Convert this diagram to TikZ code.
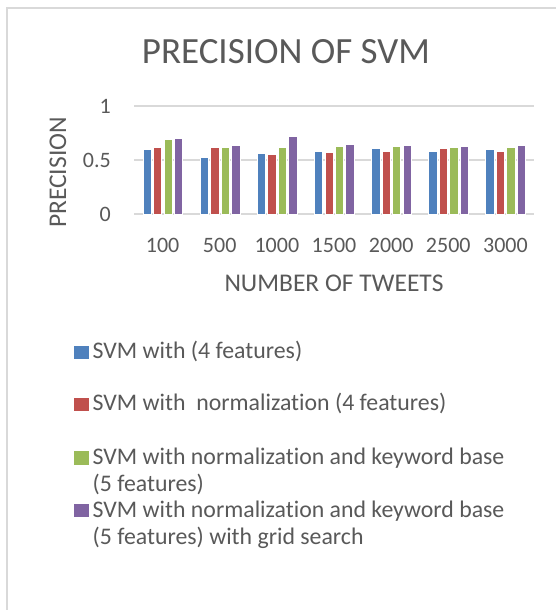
\documentclass[tikz,border=0pt]{standalone}
\usepackage{fontspec}
\setmainfont{Carlito}[Ligatures={NoCommon}]
\definecolor{txtgray}{HTML}{595959}
\definecolor{gridgray}{HTML}{D9D9D9}
\definecolor{serA}{HTML}{4F81BD}
\definecolor{serB}{HTML}{C0504D}
\definecolor{serC}{HTML}{9BBB59}
\definecolor{serD}{HTML}{8064A2}
\tikzset{
  chartframe/.style={draw=gridgray, line width=1.5pt},
  gridrule/.style={draw=gridgray, line width=1.6pt},
  barbox/.style={draw=white, line width=0.5pt},
  label txt/.style={text=txtgray, inner sep=0pt, font=\fontsize{22}{26}\selectfont},
  axis title/.style={text=txtgray, inner sep=0pt, font=\fontsize{25.5}{30}\selectfont},
  chart title/.style={text=txtgray, inner sep=0pt, font=\fontsize{37}{44}\selectfont},
  legend txt/.style={text=txtgray, inner sep=0pt, anchor=base west, font=\fontsize{23.8}{28}\selectfont},
  legend key/.style={inner sep=0pt, minimum width=15pt, minimum height=13.5pt, anchor=south west},
}
\begin{document}
\begin{tikzpicture}[x=1pt, y=-1pt]
\useasboundingbox (0,0) rectangle (556,610);
\fill[white] (0,0) rectangle (556,610);
% outer chart border (top and left edges)
\draw[chartframe] (7,612) -- (7,8) -- (558,8);

% title
\node[chart title, anchor=base] (title) at (286,63.3) {PRECISION OF SVM};

% horizontal gridlines and value labels
\foreach \v/\lab [count=\k] in {0/0, 0.5/0.5, 1/1} {
  \pgfmathsetmacro{\gy}{214-108*\v}
  \draw[gridrule] (134,\gy) -- (534,\gy);
  \node[label txt, anchor=east] (tick\k) at (111,\gy) {\lab};
}

% bars: four series per group
\foreach \va/\vb/\vc/\vd/\cat [count=\i from 0] in {
    0.60/0.62/0.69/0.70/100,
    0.53/0.62/0.62/0.64/500,
    0.56/0.55/0.62/0.72/1000,
    0.58/0.57/0.63/0.65/1500,
    0.61/0.58/0.63/0.64/2000,
    0.58/0.61/0.62/0.63/2500,
    0.60/0.58/0.62/0.64/3000} {
  \pgfmathsetmacro{\cx}{134+57.143*(\i+0.5)}
  \foreach \val/\col [count=\j from 0] in {\va/serA, \vb/serB, \vc/serC, \vd/serD} {
    \pgfmathsetmacro{\xl}{\cx-19.7+10.45*\j}
    \pgfmathsetmacro{\xr}{\xl+8.4}
    \pgfmathsetmacro{\yt}{214-108*\val}
    \filldraw[barbox, fill=\col] (\xl,214) rectangle (\xr,\yt);
  }
  \node[label txt, anchor=base] (cat\i) at (\cx,252.3) {\cat};
}

% axis titles
\node[axis title, anchor=base] (xtitle) at (334,291.7) {NUMBER OF TWEETS};
\node[axis title, anchor=base, rotate=90] (ytitle) at (66,172.5) {PRECISION};

% legend
\node[legend key, fill=serA] (keyA) at (74,359.5) {};
\node[legend txt] (legA) at (92.5,358.3) {SVM with (4 features)};
\node[legend key, fill=serB] (keyB) at (74,411.2) {};
\node[legend txt] (legB) at (92.5,410) {SVM with\ \ normalization (4 features)};
\node[legend key, fill=serC] (keyC) at (74,465) {};
\node[legend txt] (legC) at (92.5,464.5) {SVM with normalization and keyword base};
\node[legend txt] (legCb) at (92.5,491) {(5 features)};
\node[legend key, fill=serD] (keyD) at (74,517.5) {};
\node[legend txt] (legD) at (92.5,517) {SVM with normalization and keyword base};
\node[legend txt] (legDb) at (92.5,544.3) {(5 features) with grid search};
\end{tikzpicture}
\end{document}
